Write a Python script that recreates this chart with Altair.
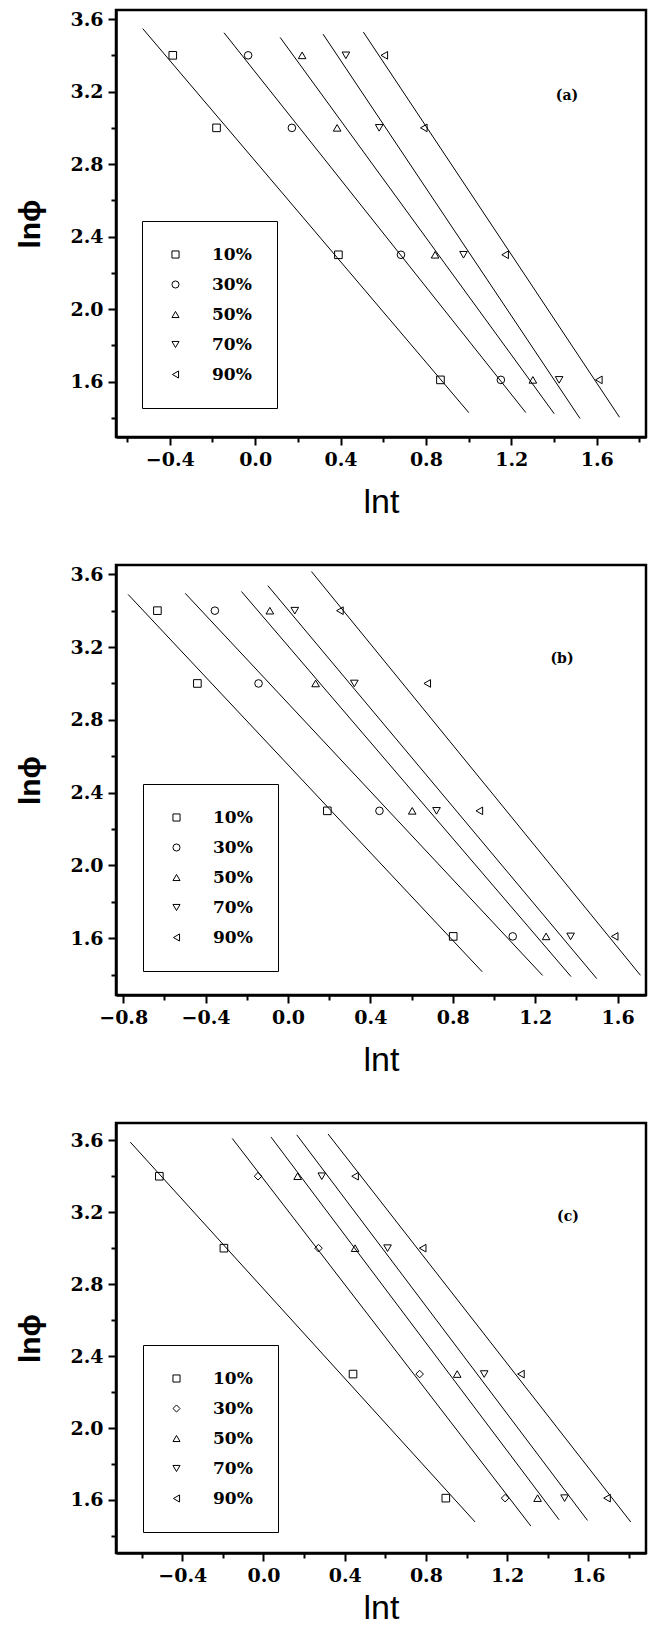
import altair as alt
import pandas as pd

series = ["10%", "30%", "50%", "70%", "90%"]
lnphi = [3.40, 3.00, 2.30, 1.61]

# panel (a): lnt of each point (at lnphi levels), and x-extent of each fitted line
a_lnt_10 = [-0.386, -0.181, 0.390, 0.868]
a_lnt_30 = [-0.033, 0.172, 0.683, 1.151]
a_lnt_50 = [0.220, 0.384, 0.843, 1.301]
a_lnt_70 = [0.425, 0.581, 0.976, 1.424]
a_lnt_90 = [0.605, 0.790, 1.171, 1.610]
a_fit = [[-0.527, 1.001], [-0.146, 1.268], [0.117, 1.401], [0.318, 1.522], [0.507, 1.707]]

# panel (b)
b_lnt_10 = [-0.634, -0.440, 0.191, 0.802]
b_lnt_30 = [-0.355, -0.143, 0.444, 1.091]
b_lnt_50 = [-0.088, 0.134, 0.603, 1.253]
b_lnt_70 = [0.033, 0.322, 0.721, 1.372]
b_lnt_90 = [0.252, 0.676, 0.929, 1.586]
b_fit = [[-0.776, 0.943], [-0.499, 1.236], [-0.226, 1.374], [-0.098, 1.499], [0.114, 1.711]]

# panel (c)
c_lnt_10 = [-0.513, -0.195, 0.441, 0.898]
c_lnt_30 = [-0.027, 0.271, 0.769, 1.190]
c_lnt_50 = [0.168, 0.451, 0.954, 1.350]
c_lnt_70 = [0.287, 0.611, 1.087, 1.483]
c_lnt_90 = [0.451, 0.784, 1.268, 1.692]
c_fit = [[-0.656, 1.042], [-0.154, 1.317], [0.037, 1.456], [0.164, 1.596], [0.318, 1.809]]

a_xticks = [-0.6, -0.4, -0.2, 0.0, 0.2, 0.4, 0.6, 0.8, 1.0, 1.2, 1.4, 1.6, 1.8]
b_xticks = [-0.8, -0.6, -0.4, -0.2, 0.0, 0.2, 0.4, 0.6, 0.8, 1.0, 1.2, 1.4, 1.6]
c_xticks = [-0.6, -0.4, -0.2, 0.0, 0.2, 0.4, 0.6, 0.8, 1.0, 1.2, 1.4, 1.6, 1.8]
yticks = [1.4, 1.6, 1.8, 2.0, 2.2, 2.4, 2.6, 2.8, 3.0, 3.2, 3.4, 3.6]

shapes_ab = ["square", "circle", "triangle-up", "triangle-down", "triangle-left"]
shapes_c = ["square", "diamond", "triangle-up", "triangle-down", "triangle-left"]

MAJOR = "abs(round(datum.value * 10)) % 4 == 0"
LABEL = MAJOR + " ? format(datum.value, '.1f') : ''"
TICKSIZE = {"condition": {"test": MAJOR, "value": 8}, "value": 5}


def panel(lnt_lists, fits, shapes, tag, xdom, ydom, xticks, w, h, leg_xy, tag_xy, xtp):
    rows = []
    for s, xs in zip(series, lnt_lists):
        for x, y in zip(xs, lnphi):
            rows.append({"series": s, "lnt": x, "lnphi": y})
    df = pd.DataFrame(rows)
    base = alt.Chart(df)
    x = alt.X("lnt:Q", scale=alt.Scale(domain=xdom, nice=False, zero=False),
              axis=alt.Axis(values=xticks, labelExpr=LABEL, tickSize=TICKSIZE,
                            title="lnt", titleFontSize=34, titleFontWeight="normal",
                            titlePadding=xtp))
    y = alt.Y("lnphi:Q", scale=alt.Scale(domain=ydom, nice=False, zero=False),
              axis=alt.Axis(values=yticks, labelExpr=LABEL, tickSize=TICKSIZE,
                            title="lnϕ", titleFontSize=30, titleFontWeight="bold",
                            titlePadding=24))
    lines = []
    for s, ext in zip(series, fits):
        lines.append(
            base.transform_filter(alt.datum.series == s)
            .transform_regression("lnt", "lnphi", extent=ext)
            .mark_line(color="black", strokeWidth=1)
            .encode(x=x, y=y)
        )
    pts = base.mark_point(filled=False, color="black", size=58, strokeWidth=1, opacity=1).encode(
        x=x, y=y,
        shape=alt.Shape("series:N", scale=alt.Scale(domain=series, range=shapes),
                        legend=alt.Legend(title=None, orient="none",
                                          legendX=leg_xy[0], legendY=leg_xy[1],
                                          strokeColor="black", padding=25,
                                          rowPadding=12, symbolSize=50,
                                          symbolStrokeWidth=1, symbolStrokeColor="black",
                                          symbolFillColor="transparent",
                                          labelFont="DejaVu Serif", labelFontWeight="bold",
                                          labelFontSize=17, labelColor="black",
                                          labelOffset=28)),
    )
    txt = alt.Chart(pd.DataFrame({"t": [tag]})).mark_text(
        font="DejaVu Serif", fontWeight="bold", fontSize=14, color="black"
    ).encode(x=alt.value(tag_xy[0]), y=alt.value(tag_xy[1]), text="t:N")
    return alt.layer(*lines, pts, txt).properties(width=w, height=h)


pa = panel([a_lnt_10, a_lnt_30, a_lnt_50, a_lnt_70, a_lnt_90], a_fit, shapes_ab, "(a)",
           [-0.652, 1.831], [1.295, 3.65], a_xticks, 530, 427, (26, 211), (451, 86), 16)
pb = panel([b_lnt_10, b_lnt_30, b_lnt_50, b_lnt_70, b_lnt_90], b_fit, shapes_ab, "(b)",
           [-0.835, 1.738], [1.288, 3.651], b_xticks, 530, 430, (27, 219), (446, 94), 16)
pc = panel([c_lnt_10, c_lnt_30, c_lnt_50, c_lnt_70, c_lnt_90], c_fit, shapes_c, "(c)",
           [-0.7265, 1.884], [1.305, 3.696], c_xticks, 530, 430, (27, 222), (452, 94), 6)

chart = (
    alt.vconcat(pa, pb, pc, spacing=128, bounds="flush")
    .resolve_scale(shape="independent")
    .resolve_legend(shape="independent")
    .properties(padding={"top": 8, "left": 14, "right": 2, "bottom": 0}, background="white")
    .configure_view(stroke="black", strokeWidth=2.5)
    .configure_axis(domainColor="black", domainWidth=2.5, tickColor="black", tickWidth=2,
                    labelFont="DejaVu Serif", labelFontWeight="bold", labelFontSize=19,
                    labelColor="black", labelPadding=5, titleFont="Liberation Sans",
                    titleColor="black", grid=False)
)

chart.save("out.html", embed_options={"renderer": "svg", "actions": False})
